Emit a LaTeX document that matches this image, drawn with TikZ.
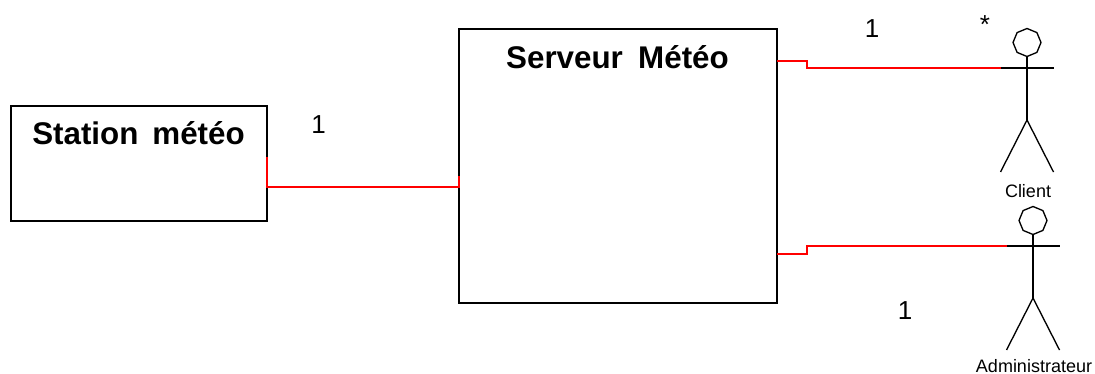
\documentclass[tikz,border=0pt]{standalone}
\usepackage{fontspec}
\setmainfont{Liberation Sans}
\usetikzlibrary{shapes.geometric}
\tikzset{
box/.style={draw,line width=1pt,rectangle,inner sep=0pt},
title/.style={font=\bfseries\fontsize{23.5}{26}\selectfont,inner sep=0pt},
mult/.style={font=\fontsize{19.5}{22}\selectfont,inner sep=0pt},
actorname/.style={font=\fontsize{13.5}{15}\selectfont,inner sep=0pt,anchor=base},
head/.style={draw,line width=1pt,regular polygon,regular polygon sides=8,shape border rotate=22.5,minimum size=21pt,inner sep=0pt},
limb/.style={line width=1pt},
link/.style={red,line width=1pt}
}
\begin{document}
\begin{tikzpicture}[x=0.75pt,y=-0.75pt]
\useasboundingbox (0,0) rectangle (1095,374);
% the boxes
\node (station) [box,minimum width=192pt,minimum height=86.25pt] at (139,163.5) {};
\node (serveur) [box,minimum width=238.5pt,minimum height=205.5pt] at (618,166) {};
\node (stationtitle) [title] at (138.5,133) {Station\, météo};
\node (serveurtitle) [title] at (617.5,57) {Serveur\hspace{5pt} Météo};
% the actors
\foreach \name/\x/\y/\ly/\txt in {client/1027/68/197/Client,admin/1033/246/372.5/Administrateur}
{
  \node (\name-head) [head] at (\x,\y-25.5) {};
  \coordinate (\name-left) at (\x-26,\y);
  \coordinate (\name-right) at (\x+27,\y);
  \coordinate (\name-hip) at (\x,\y+52);
  \coordinate (\name-footl) at (\x-26.5,\y+104);
  \coordinate (\name-footr) at (\x+26.5,\y+104);
  \node (\name-label) [actorname] at (\x+1,\ly) {\txt};
  \draw[limb] (\name-left) -- (\name-right);
  \draw[limb] (\name-head.south) -- (\name-hip);
  \draw[limb] (\name-footl) -- (\name-hip) -- (\name-footr);
}
% the links
\coordinate (stationport) at (267,157);
\coordinate (serveurport) at (459,176);
\coordinate (clientport) at (777,61);
\coordinate (adminport) at (777,254);
\draw[link] (stationport) -- (267,187) -- (459,187) -- (serveurport);
\draw[link] (clientport) -- (807,61) -- (807,68) -- (client-left);
\draw[link] (adminport) -- (807,254) -- (807,246) -- (admin-left);
% the multiplicities
\node (mult1) [mult] at (318.5,124.5) {1};
\node (mult2) [mult] at (872,29) {1};
\node (mult3) [mult] at (985,25) {*};
\node (mult4) [mult] at (905,311) {1};
\end{tikzpicture}
\end{document}
